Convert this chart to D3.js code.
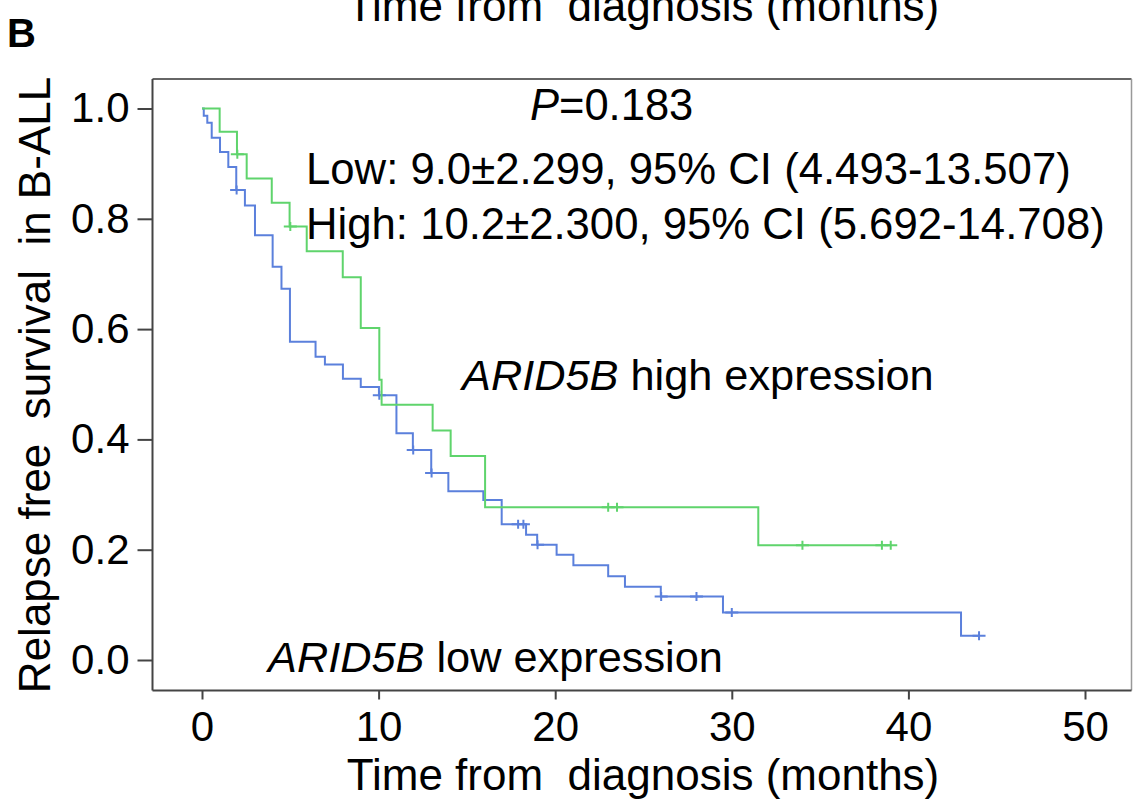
<!DOCTYPE html>
<html>
<head>
<meta charset="utf-8">
<script src="https://cdn.jsdelivr.net/npm/d3@7"></script>
<style>
    body { margin: 0; background: #fff; }
    svg text { font-family: Arial, "Liberation Sans", sans-serif; fill: #000; white-space: pre; }
</style>
</head>
<body>
<div id="chart"></div>
<script>

// ARID5B high expression (green) - step times / survival
const highTime = [0, 1.0, 1.98, 2.53, 3.95, 4.96, 5.93, 7.97, 8.99, 10.04, 10.17, 13.06, 14.08, 16.03, 31.5, 39.0]
const highSurv = [1.0, 0.958, 0.917, 0.873, 0.829, 0.786, 0.741, 0.694, 0.602, 0.508, 0.463, 0.416, 0.370, 0.277, 0.208, 0.208]
const highCensor = [2.0, 5.0, 23.0, 23.5, 34.0, 38.5, 39.0]

// ARID5B low expression (blue)
const lowTime = [0, 0.1, 0.3, 0.55, 1.02, 1.49, 1.94, 2.43, 3.0, 4.0, 4.5, 4.98, 6.43, 6.96, 7.98, 8.99, 10.02, 11.01, 11.94, 12.98, 13.95, 15.93, 16.97, 18.35, 18.98, 20.08, 21.03, 23.0, 23.95, 25.98, 29.5, 42.98, 44.0]
const lowSurv = [1.0, 0.987, 0.974, 0.947, 0.921, 0.894, 0.852, 0.824, 0.770, 0.713, 0.673, 0.577, 0.550, 0.536, 0.510, 0.495, 0.480, 0.411, 0.381, 0.339, 0.306, 0.290, 0.246, 0.227, 0.209, 0.191, 0.172, 0.152, 0.133, 0.115, 0.086, 0.044, 0.044]
const lowCensor = [1.96, 10.04, 11.96, 13.0, 17.9, 18.2, 19.0, 26.0, 28.0, 30.0, 44.0]

const xTicks = [0, 10, 20, 30, 40, 50]
const yTicks = [0, 0.2, 0.4, 0.6, 0.8, 1.0]

const xTitle = 'Time from  diagnosis (months)'
const yTitle = 'Relapse free  survival  in B-ALL'

class KMChart {
    constructor(_config) {
        this.config = {
            parentElement: _config.parentElement,
            containerWidth: _config.containerWidth || 1133,
            containerHeight: _config.containerHeight || 803,
        }
        this.initVis();
    }

    initVis() {
        let vis = this;

        vis.svg = d3.select(vis.config.parentElement).append('svg')
            .attr('width', vis.config.containerWidth)
            .attr('height', vis.config.containerHeight)

        // scales
        vis.xScale = d3.scaleLinear().domain([0, 50]).range([202, 1085])
        vis.yScale = d3.scaleLinear().domain([0, 1]).range([660, 108.5])

        // frame (top + right)
        vis.svg.append('line').attr('x1', 152.5).attr('x2', 1131.5).attr('y1', 79).attr('y2', 79)
            .attr('stroke', '#666').attr('stroke-width', 2)
        vis.svg.append('line').attr('x1', 1131.5).attr('x2', 1131.5).attr('y1', 79).attr('y2', 690.5)
            .attr('stroke', '#999').attr('stroke-width', 1.5)

        // axes
        vis.xAxis = d3.axisBottom(vis.xScale).tickValues(xTicks).tickSize(9).tickPadding(12)
            .tickFormat(d3.format('d'))
        vis.yAxis = d3.axisLeft(vis.yScale).tickValues(yTicks).tickSize(15).tickPadding(8)
            .tickFormat(d3.format('.1f'))

        vis.xAxisG = vis.svg.append('g').attr('transform', 'translate(0,690.5)')
        vis.yAxisG = vis.svg.append('g').attr('transform', 'translate(152.5,0)')

        vis.linesG = vis.svg.append('g')
        vis.textG = vis.svg.append('g')
    }

    renderVis() {
        let vis = this;

        vis.xAxisG.call(vis.xAxis)
        vis.xAxisG.select('.domain').attr('d', 'M152.5,0H1131.5').attr('stroke', '#444').attr('stroke-width', 2)
        vis.yAxisG.call(vis.yAxis)
        vis.yAxisG.select('.domain').attr('d', 'M0,79V690.5').attr('stroke', '#444').attr('stroke-width', 2)
        vis.svg.selectAll('.tick line').attr('stroke', '#444').attr('stroke-width', 2)
        vis.svg.selectAll('.tick text').attr('font-size', 42).attr('fill', '#000')
            .attr('font-family', 'Arial, "Liberation Sans", sans-serif')

        const line = d3.line()
            .x(d => vis.xScale(d[0]))
            .y(d => vis.yScale(d[1]))
            .curve(d3.curveStepAfter)

        const series = [
            {time: lowTime, surv: lowSurv, censor: lowCensor, color: '#5b80dc'},
            {time: highTime, surv: highSurv, censor: highCensor, color: '#5fd46c'},
        ]

        series.forEach(s => {
            const pts = s.time.map((t, i) => [t, s.surv[i]])
            vis.linesG.append('path')
                .attr('d', line(pts))
                .attr('fill', 'none')
                .attr('stroke', s.color)
                .attr('stroke-width', 2)

            // survival at a censor time = last step at or before it
            const survAt = t => s.surv[d3.bisectRight(s.time, t) - 1]
            vis.linesG.selectAll(null).data(s.censor).join('path')
                .attr('d', d => {
                    const cx = vis.xScale(d), cy = vis.yScale(survAt(d))
                    return `M${cx - 6.5},${cy}H${cx + 6.5}M${cx},${cy - 4.5}V${cy + 4.5}`
                })
                .attr('stroke', s.color)
                .attr('stroke-width', 2)
        })

        // labels
        const t = vis.textG
        t.append('text').attr('x', 7).attr('y', 47).attr('font-size', 40).attr('font-weight', 'bold').text('B')
        t.append('text').attr('x', 643).attr('y', 21).attr('font-size', 44).attr('text-anchor', 'middle').text(xTitle)
        t.append('text').attr('x', 643).attr('y', 790).attr('font-size', 44).attr('text-anchor', 'middle').text(xTitle)
        t.append('text').attr('transform', 'translate(50,385) rotate(-90)')
            .attr('font-size', 44).attr('text-anchor', 'middle').text(yTitle)

        const p = t.append('text').attr('x', 530).attr('y', 120).attr('font-size', 43.5)
        p.append('tspan').attr('font-style', 'italic').text('P')
        p.append('tspan').text('=0.183')

        t.append('text').attr('x', 306).attr('y', 184).attr('font-size', 43.7)
            .text('Low: 9.0\u00b12.299, 95% CI (4.493-13.507)')
        t.append('text').attr('x', 306).attr('y', 239).attr('font-size', 43.7)
            .text('High: 10.2\u00b12.300, 95% CI (5.692-14.708)')

        const hi = t.append('text').attr('x', 462).attr('y', 390).attr('font-size', 43.3)
        hi.append('tspan').attr('font-style', 'italic').text('ARID5B')
        hi.append('tspan').text(' high expression')

        const lo = t.append('text').attr('x', 268).attr('y', 672).attr('font-size', 43.3)
        lo.append('tspan').attr('font-style', 'italic').text('ARID5B')
        lo.append('tspan').text(' low expression')
    }
}

const chart = new KMChart({parentElement: '#chart'})
chart.renderVis()

</script>
</body>
</html>
